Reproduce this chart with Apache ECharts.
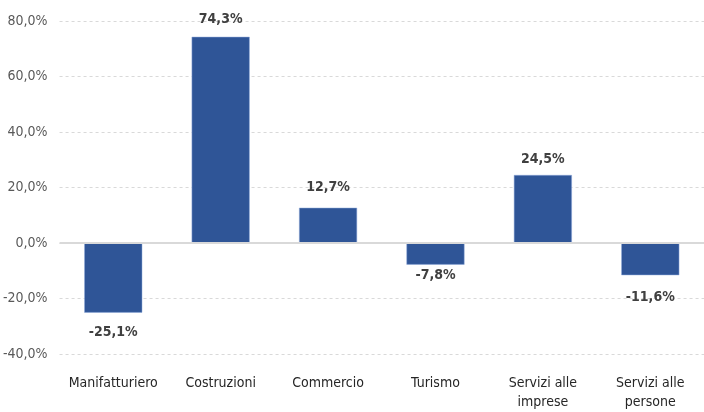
<!DOCTYPE html>
<html>
<head>
<meta charset="utf-8">
<script src="https://cdn.jsdelivr.net/npm/echarts@6/dist/echarts.min.js"></script>
<style>
  html, body { margin: 0; padding: 0; background: #fff; }
  #chart { width: 704px; height: 412px; }
</style>
</head>
<body>
<div id="chart"></div>
<script>
// settori e variazione %
const categories = ['Manifatturiero', 'Costruzioni', 'Commercio', 'Turismo', 'Servizi alle\nimprese', 'Servizi alle\npersone']
const values = [-25.1, 74.3, 12.7, -7.8, 24.5, -11.6]
const yTicks = [-40, -20, 0, 20, 40, 60, 80]

const FONT = '"Liberation Sans Narrow", "DejaVu Sans Condensed", "Noto Sans", sans-serif'
const fmt = v => v.toFixed(1).replace('.', ',') + '%'
// distanza etichetta dalla barra (come nel grafico originale)
const labelGap = [13, 10, 13, 4, 9, 15]

let myChart = echarts.init(document.getElementById('chart'))
myChart.setOption({
  animation: false,
  grid: { left: 57, width: 653, top: 21, bottom: 54 },
  xAxis: {
    type: 'category',
    data: categories,
    axisLine: { show: false },
    axisTick: { show: false },
    axisLabel: { color: '#262626', fontSize: 14, fontFamily: FONT, margin: 20, lineHeight: 19, interval: 0 }
  },
  yAxis: {
    type: 'value',
    min: yTicks[0],
    max: yTicks[yTicks.length - 1],
    interval: 20,
    axisLine: { show: false },
    axisTick: { show: false },
    axisLabel: { color: '#595959', fontSize: 14, fontFamily: FONT, margin: 12, formatter: fmt },
    splitLine: {
      lineStyle: {
        color: '#d9d9d9',
        width: 1,
        type: [3, 3]
      }
    }
  },
  series: [{
    type: 'bar',
    data: values.map((v, i) => ({
      value: v,
      label: { position: v >= 0 ? 'top' : 'bottom', distance: labelGap[i] }
    })),
    barWidth: 58,
    itemStyle: { color: '#2F5597', borderColor: '#8EA9DB', borderWidth: 0.5 },
    label: {
      show: true,
      color: '#404040',
      fontWeight: 'bold',
      fontSize: 14,
      fontFamily: FONT,
      formatter: p => fmt(p.value)
    },
    markLine: {
      silent: true,
      symbol: 'none',
      label: { show: false },
      lineStyle: { color: '#d9d9d9', type: 'solid', width: 2 },
      data: [{ yAxis: 0 }]
    }
  }]
})
</script>
</body>
</html>
